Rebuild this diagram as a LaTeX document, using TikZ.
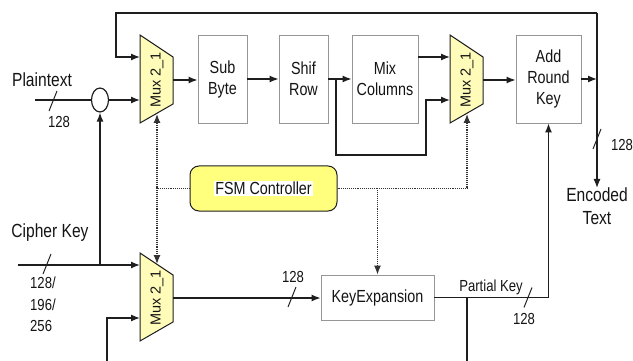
\documentclass[tikz,border=0pt]{standalone}
\usepackage{fontspec}
\setmainfont[FakeStretch=0.82]{Liberation Sans}
\newfontfamily\muxfont{Liberation Sans}
\usetikzlibrary{arrows.meta,shapes.geometric,calc}
\definecolor{wirec}{RGB}{30,30,30}
\definecolor{ctlc}{RGB}{50,50,50}
\definecolor{boxc}{RGB}{150,150,150}
\definecolor{muxfill}{RGB}{255,252,185}
\definecolor{fsmfill}{RGB}{255,255,125}
\definecolor{txtc}{RGB}{20,20,20}
\begin{document}
\begin{tikzpicture}[x=1pt,y=-1pt,
  wire/.style={draw=wirec,line width=1.3pt},
  arr/.style={-{Latex[length=9pt,width=7pt]}},
  ctl/.style={draw=ctlc,line width=1.2pt,dash pattern=on 1pt off 0.9pt},
  blk/.style={draw=boxc,line width=0.9pt,fill=white,minimum height=88pt,
    align=center,inner sep=0pt,text=txtc,font=\fontsize{17.5}{21}\selectfont},
  lbl/.style={inner sep=0pt,text=txtc,align=center},
  buslbl/.style={lbl,font=\fontsize{16}{21.5}\selectfont},
  biglbl/.style={lbl,font=\fontsize{19}{23}\selectfont},
  mux/.pic={
    \draw[draw=wirec,line width=1pt,fill=muxfill]
      (0,0) -- (33,22) -- (33,69) -- (0,88) -- cycle;
    \node[rotate=90,inner sep=0pt,text=txtc,font=\muxfont\fontsize{14.5}{14.5}\selectfont]
      at (17,45) {Mux 2\_1};
    \coordinate (-in0) at (0,12);
    \coordinate (-in1) at (0,22);
    \coordinate (-in2) at (0,65);
    \coordinate (-out) at (33,45);
    \coordinate (-sel) at (17,79);
    \coordinate (-selt) at (17,11);
  },
  bus/.pic={\draw[wire,line width=1pt] (-4,10) -- (4,-10);}
]
\useasboundingbox (0,0) rectangle (633,361);

% multiplexers
\pic (m1) at (140,35) {mux};
\pic (m2) at (450,35) {mux};
\pic (m3) at (140,253) {mux};

% round blocks
\node[blk,minimum width=49pt] (sub)  at (222.5,79) {Sub\\Byte};
\node[blk,minimum width=49pt] (shif) at (303.5,79) {Shif\\Row};
\node[blk,minimum width=66pt] (mix)  at (385,79)   {Mix\\Columns};
\node[blk,minimum width=65pt] (ark)  at (548.5,79) {Add\\Round\\Key};
\node[blk,minimum width=113pt,minimum height=45pt] (kex) at (377.5,297.5) {KeyExpansion};

% controller
\node[draw=wirec,line width=1pt,fill=fsmfill,rounded corners=9pt,
      minimum width=147pt,minimum height=45pt,inner sep=0pt,
      font=\fontsize{17.5}{21}\selectfont,text=txtc] (fsm) at (263.5,188.5)
  {\setlength{\fboxsep}{1.5pt}\colorbox{white}{FSM Controller}};

% plaintext input and key addition point
\node[draw=wirec,line width=1.2pt,ellipse,minimum width=17pt,minimum height=24pt,inner sep=0pt]
  (xorc) at (100,100) {};
\node[biglbl] (ptlbl) at (42,80) {Plaintext};
\coordinate (ptin) at (35,100);
\draw[wire] (ptin) -- (xorc.west);
\draw[wire,arr] (xorc.east) -- (m1-in2);
\pic at (53,101) {bus};
\node[buslbl] (pt128) at (59,122) {128};

% cipher key input
\node[biglbl] (cklbl) at (50,233) {Cipher Key};
\coordinate (ckin) at (18,265);
\coordinate (ckj) at (100,265);
\draw[wire,arr] (ckin) -- (m3-in0);
\draw[wire,arr] (ckj) -- (xorc.south);
\pic at (47,264) {bus};
\node[buslbl,anchor=north west,align=left] (cksize) at (30,277) {128/\\196/\\256};

% feedback loop and encoded output
\coordinate (tr) at (597,13);
\coordinate (fbL) at (116,13);
\draw[wire,arr] (tr) -- (fbL) |- (m1-in1);
\node[biglbl,anchor=north] (enc) at (597,188) {Encoded\\Text};
\draw[wire,arr] (tr) -- (enc.north);
\draw[wire,arr] (ark.east) -- (ark.east -| tr);
\pic at (597,139) {bus};
\node[buslbl] (enc128) at (622,145) {128};

% datapath of one round
\draw[wire,arr] (m1-out) -- (sub.west |- m1-out);
\draw[wire,arr] (sub.east) -- (shif.west);
\draw[wire,arr] (shif.east) -- (mix.west);
\draw[wire,arr] (mix.east |- m2-in1) -- (m2-in1);
\coordinate (brA) at (336,79);
\coordinate (brB) at (426,155);
\draw[wire,arr] (brA) |- (brB) |- (m2-in2);
\draw[wire,arr] (m2-out) -- (ark.west |- m2-out);

% control lines
\coordinate (cL) at (157,188.5);
\coordinate (cR) at (467,188.5);
\coordinate (cK) at (kex.north |- fsm.east);
\draw[ctl] (fsm.west) -- (cL);
\draw[ctl,arr] (cL) -- (m1-sel);
\draw[ctl,arr] (cL) -- (m3-selt);
\draw[ctl] (fsm.east) -- (cR);
\draw[ctl,arr] (cR) -- (m2-sel);
\draw[ctl,arr] (cK) -- (kex.north);

% key schedule
\draw[wire,arr] (m3-out) -- (kex.west |- m3-out);
\pic at (292,297) {bus};
\node[buslbl] (kx128) at (293,277) {128};
\coordinate (pk) at (ark.south |- kex.east);
\coordinate (pkj) at (467,297.5);
\coordinate (pkb) at (467,361);
\draw[wire] (kex.east) -- (pk);
\draw[wire,arr] (pk) -- (ark.south);
\draw[wire] (pkj) -- (pkb);
\node[buslbl] (pklbl) at (491,287) {Partial Key};
\pic at (528,297.5) {bus};
\node[buslbl] (pk128) at (524,319) {128};
\coordinate (bk) at (107,361);
\draw[wire,arr] (bk) |- (m3-in2);
\end{tikzpicture}
\end{document}
